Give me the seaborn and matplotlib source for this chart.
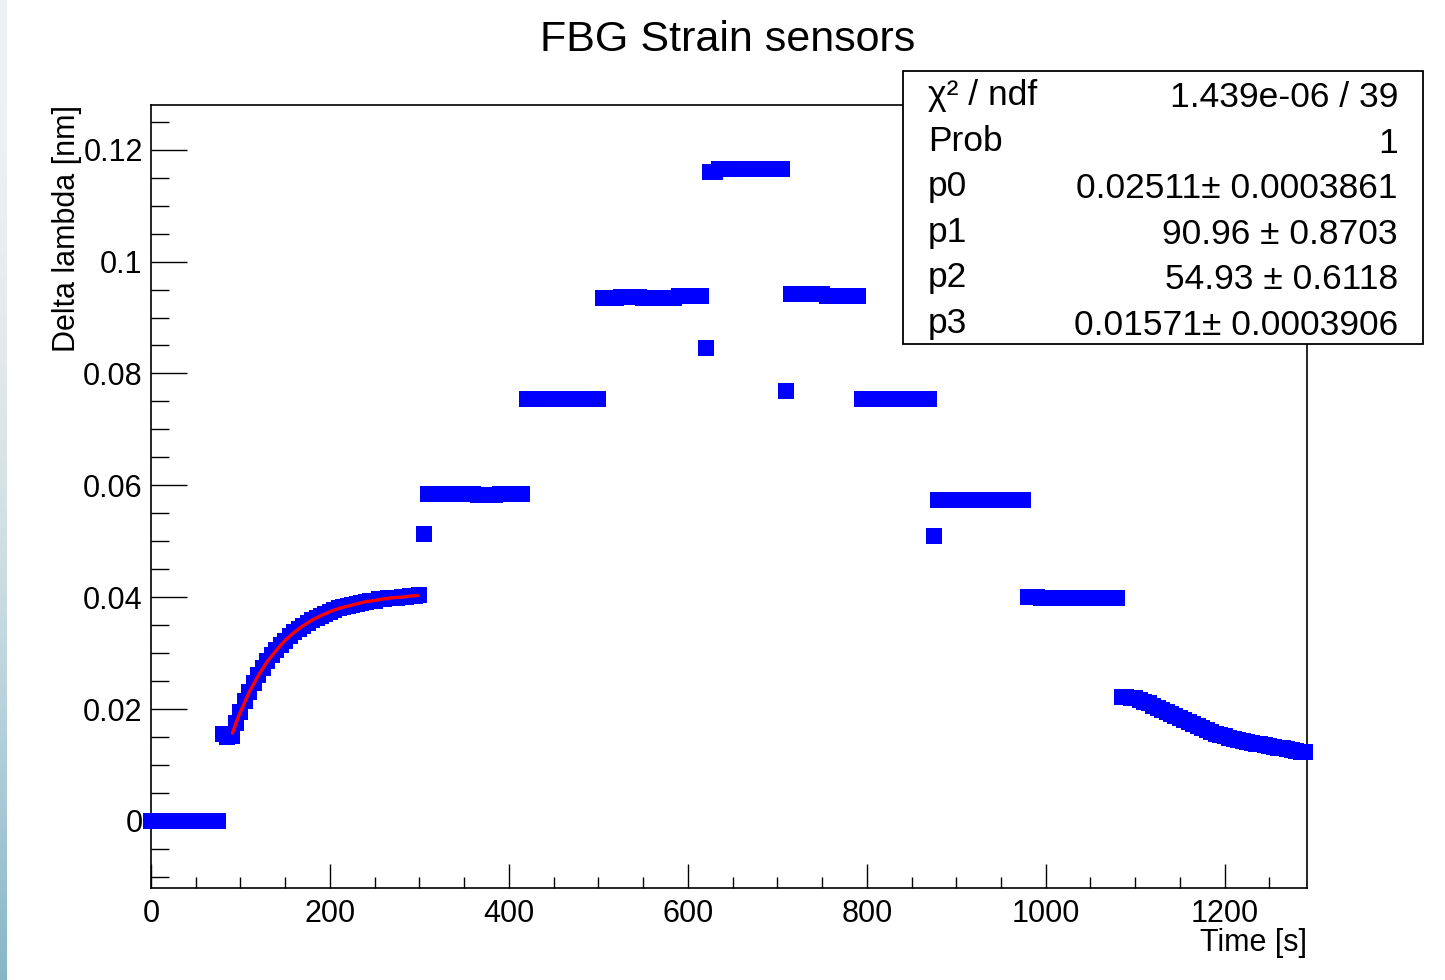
# %%

import numpy as np
import pandas as pd
import matplotlib
matplotlib.use('Agg')
import matplotlib.pyplot as plt
from matplotlib.patches import Rectangle
import seaborn as sns

# %% data (time in s, delta lambda in nm)

# flat steps: start time, stop time, level (one reading every 5 s)
seg_start = [0, 310, 365, 390, 420, 505, 525, 550, 590, 625, 635, 715, 755, 795, 880, 980, 995]
seg_stop = [75, 360, 385, 415, 500, 520, 545, 585, 615, 630, 705, 750, 790, 870, 975, 990, 1080]
seg_level = [0.0, 0.0584, 0.0582, 0.0584, 0.0755, 0.0935, 0.0937, 0.0935, 0.0938,
             0.1161, 0.1165, 0.0942, 0.0938, 0.0755, 0.0573, 0.0401, 0.0398]

# single readings caught in between two steps
t_jump = [305, 620, 710, 875]
y_jump = [0.0513, 0.0846, 0.0768, 0.0509]

# first loading step (the fitted rise)
t_rise = [80, 85, 90, 95, 100, 105, 110, 115, 120, 125, 130, 135, 140, 145, 150,
          155, 160, 165, 170, 175, 180, 185, 190, 195, 200, 205, 210, 215, 220,
          225, 230, 235, 240, 245, 250, 255, 260, 265, 270, 275, 280, 285, 290,
          295, 300]
y_rise = [0.0155, 0.0150, 0.0152, 0.0175, 0.0195, 0.0214, 0.0231, 0.0246, 0.0260,
          0.0273, 0.0285, 0.0296, 0.0305, 0.0314, 0.0322, 0.0330, 0.0337, 0.0343,
          0.0349, 0.0354, 0.0359, 0.0363, 0.0367, 0.0370, 0.0374, 0.0377, 0.0380,
          0.0382, 0.0384, 0.0386, 0.0388, 0.0390, 0.0392, 0.0393, 0.0394, 0.0396,
          0.0397, 0.0398, 0.0399, 0.0399, 0.0400, 0.0401, 0.0402, 0.0402, 0.0403]

# last unloading step (slow relaxation)
t_decay = [1085, 1090, 1095, 1100, 1105, 1110, 1115, 1120, 1125, 1130, 1135, 1140,
           1145, 1150, 1155, 1160, 1165, 1170, 1175, 1180, 1185, 1190, 1195, 1200,
           1205, 1210, 1215, 1220, 1225, 1230, 1235, 1240, 1245, 1250, 1255, 1260,
           1265, 1270, 1275, 1280, 1285, 1290]
y_decay = [0.0221, 0.0221, 0.0220, 0.0219, 0.0216, 0.0213, 0.0210, 0.0206, 0.0202,
           0.0198, 0.0195, 0.0191, 0.0188, 0.0184, 0.0181, 0.0177, 0.0173, 0.0169,
           0.0166, 0.0162, 0.0159, 0.0156, 0.0153, 0.0151, 0.0149, 0.0147, 0.0145,
           0.0143, 0.0141, 0.0140, 0.0138, 0.0137, 0.0136, 0.0134, 0.0133, 0.0131,
           0.0130, 0.0128, 0.0127, 0.0125, 0.0124, 0.0123]

# red fit curve
fit_t = [91, 95, 100, 110, 120, 130, 140, 150, 160, 170, 180, 190, 200, 210, 220,
         230, 240, 250, 260, 270, 280, 290, 298]
fit_y = [0.0157, 0.0175, 0.0195, 0.0231, 0.0260, 0.0285, 0.0305, 0.0323, 0.0337,
         0.0349, 0.0359, 0.0367, 0.0374, 0.0380, 0.0384, 0.0388, 0.0392, 0.0394,
         0.0397, 0.0399, 0.0400, 0.0402, 0.0403]

stat_names = ['χ² / ndf', 'Prob', 'p0', 'p1', 'p2', 'p3']
stat_values = ['1.439e-06 / 39', '1', '0.02511± 0.0003861', '90.96 ± 0.8703',
               '54.93 ± 0.6118', '0.01571± 0.0003906']

# %%

def build_frame():
    parts = []
    for a, b, v in zip(seg_start, seg_stop, seg_level):
        t = np.arange(a, b + 1, 5)
        parts.append(pd.DataFrame({'t': t, 'y': np.full(len(t), v)}))
    parts.append(pd.DataFrame({'t': t_jump, 'y': y_jump}))
    parts.append(pd.DataFrame({'t': t_rise, 'y': y_rise}))
    parts.append(pd.DataFrame({'t': t_decay, 'y': y_decay}))
    return pd.concat(parts).sort_values('t').reset_index(drop=True)


def main():
    sns.set_style('white')
    plt.rcParams['font.family'] = ['Liberation Sans', 'DejaVu Sans']
    plt.rcParams['text.color'] = 'black'
    W, H = 1445, 980
    fig = plt.figure(figsize=(W / 100, H / 100), dpi=100)

    # faint screenshot frame on the left edge
    edge = fig.add_axes([0, 0, 7 / W, 1])
    grad = np.linspace(0, 1, 256)[:, None] ** 2
    edge.imshow(grad, aspect='auto', cmap=sns.light_palette('#86b6c6', as_cmap=True),
                extent=[0, 1, 0, 1], origin='upper')
    edge.axis('off')

    ax = fig.add_axes([151 / W, (H - 888) / H, (1307 - 151) / W, (888 - 105) / H])
    df = build_frame()
    sns.scatterplot(data=df, x='t', y='y', marker='s', s=138, color='blue',
                    linewidth=0, clip_on=False, zorder=3, ax=ax)
    sns.lineplot(x=fit_t, y=fit_y, color='red', linewidth=2.4, sort=False,
                 zorder=4, ax=ax)

    ax.set_xlim(0, 1292)
    ax.set_ylim(-0.012, 0.128)
    ax.set_xticks(np.arange(0, 1201, 200))
    ax.set_xticks(np.arange(0, 1292, 50), minor=True)
    ax.set_yticks(np.arange(0, 0.121, 0.02))
    ax.set_yticks(np.arange(-0.01, 0.128, 0.005), minor=True)
    ax.set_yticklabels(['0', '0.02', '0.04', '0.06', '0.08', '0.1', '0.12'])
    ax.set_xlabel('')
    ax.set_ylabel('')
    ax.tick_params(axis='both', which='both', direction='in', width=1.0,
                   colors='black', labelsize=22, bottom=True, left=True,
                   top=False, right=False)
    ax.tick_params(axis='y', which='major', length=26, pad=6)
    ax.tick_params(axis='y', which='minor', length=13)
    ax.tick_params(axis='x', which='major', length=17, pad=8)
    ax.tick_params(axis='x', which='minor', length=8)
    [s.set_linewidth(1.2) for s in ax.spines.values()]
    [s.set_color('black') for s in ax.spines.values()]

    fig.text(728 / W, 1 - 40 / H, 'FBG Strain sensors', ha='center', va='center',
             fontsize=31)
    fig.text(67 / W, 1 - 105 / H, 'Delta lambda [nm]', rotation=90, ha='center',
             va='top', fontsize=22)
    fig.text(1307 / W, 1 - 943 / H, 'Time [s]', ha='right', va='center', fontsize=22)

    # fit statistics box
    fig.patches.append(Rectangle((903 / W, 1 - 344 / H), (1423 - 903) / W, (344 - 71) / H,
                                 transform=fig.transFigure, facecolor='white',
                                 edgecolor='black', linewidth=1.3, zorder=5))
    for i, (n, v) in enumerate(zip(stat_names, stat_values)):
        yb = 1 - (107 + 45.6 * i) / H
        fig.text(928 / W, yb + 2 / H, n, ha='left', va='baseline', fontsize=25.5, zorder=6)
        fig.text(1398 / W, yb, v, ha='right', va='baseline', fontsize=25.5, zorder=6)

    plt.savefig('out.png', dpi=100)


if __name__ == '__main__':
    main()
